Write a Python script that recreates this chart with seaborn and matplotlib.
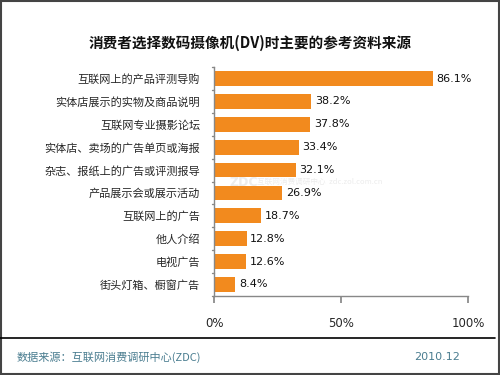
import matplotlib
matplotlib.use("Agg")
import matplotlib.pyplot as plt
import seaborn as sns
import pandas as pd
from matplotlib.lines import Line2D

categories = ["互联网上的产品评测导购", "实体店展示的实物及商品说明", "互联网专业摄影论坛",
              "实体店、卖场的广告单页或海报", "杂志、报纸上的广告或评测报导", "产品展示会或展示活动",
              "互联网上的广告", "他人介绍", "电视广告", "街头灯箱、橱窗广告"]
values = [86.1, 38.2, 37.8, 33.4, 32.1, 26.9, 18.7, 12.8, 12.6, 8.4]
xticks = [0, 50, 100]
xtick_labels = ["0%", "50%", "100%"]

sns.set_theme(style="white")
plt.rcParams['font.family'] = ['Noto Sans CJK SC', 'DejaVu Sans']

df = pd.DataFrame({"cat": categories, "val": values})

fig = plt.figure(figsize=(5, 3.75), dpi=100)
ax = fig.add_axes([0.428, 0.211, 0.508, 0.61])

# faint watermark, kept in the gap between rows so it does not hide the labels
ax.text(6, 4.55, "ZDC", fontsize=9, color="#ececec", ha="left", va="center", zorder=0.5,
        family=['DejaVu Sans'], fontweight="bold")
ax.text(17, 4.5, "互联网消费调研中心  zdc.zol.com.cn", fontsize=5.5, color="#ececec",
        ha="left", va="center", zorder=0.5)

sns.barplot(data=df, x="val", y="cat", color="#F28A1E", width=0.64, ax=ax,
            saturation=1, edgecolor="none", zorder=2)

for i, v in enumerate(values):
    ax.text(v + 1.5, i, f"{v}%", va="center", ha="left", fontsize=8,
            color="#111111", family=['DejaVu Sans'])

ax.set_xlim(0, 100)
ax.set_ylim(9.5, -0.5)
ax.set_xticks(xticks)
ax.set_xticklabels(xtick_labels, fontsize=8.5, family=['DejaVu Sans'])
ax.set_xlabel("")
ax.set_ylabel("")
ax.tick_params(axis="y", labelsize=8, length=0, pad=10)
ax.tick_params(axis="x", length=5, color="#888888", pad=10, direction="out", bottom=True)
for s in ["top", "right"]:
    ax.spines[s].set_visible(False)
for s in ["left", "bottom"]:
    ax.spines[s].set_color("#888888")
    ax.spines[s].set_linewidth(1)
for b in [i - 0.5 for i in range(11)]:
    ax.plot([-0.8, 0], [b, b], color="#888888", lw=1, clip_on=False)

fig.text(0.5, 1 - 43/375, "消费者选择数码摄像机(DV)时主要的参考资料来源", ha="center", va="center",
         fontsize=10.5, fontweight="bold", color="#111111")

fig.add_artist(Line2D([0.0, 0.99], [1 - 338/375, 1 - 338/375], color="black", lw=1.2,
                      transform=fig.transFigure))
fig.text(0.034, 1 - 357/375, "数据来源：互联网消费调研中心(ZDC)", fontsize=8, color="#4A7D90",
         ha="left", va="center")
fig.text(0.92, 1 - 357/375, "2010.12", fontsize=8, color="#4A7D90", ha="right", va="center",
         family=['DejaVu Sans'])

fig.add_artist(plt.Rectangle((0.002, 0.003), 0.995, 0.994, fill=False, edgecolor="#444444",
                             lw=1.5, transform=fig.transFigure))

fig.savefig("out.png", dpi=100)
